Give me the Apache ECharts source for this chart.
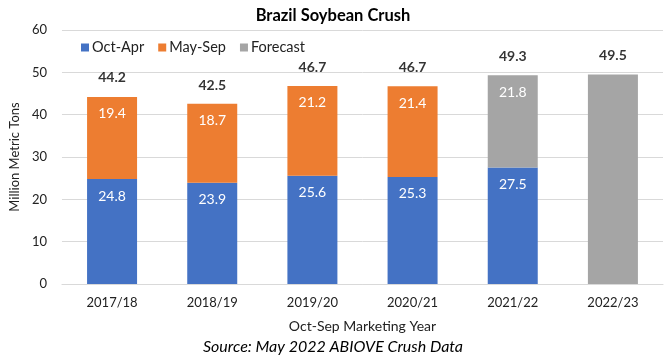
<!DOCTYPE html>
<html>
<head>
<meta charset="utf-8">
<script src="https://cdn.jsdelivr.net/npm/echarts@6/dist/echarts.min.js"></script>
<style>html,body{margin:0;padding:0;background:#fff;}#c{width:666px;height:358px;}</style>
</head>
<body>
<div id="c"></div>
<script>
var categories = ['2017/18', '2018/19', '2019/20', '2020/21', '2021/22', '2022/23'];
var octApr = [24.8, 23.9, 25.6, 25.3, 27.5, null];
var maySep = [19.4, 18.7, 21.2, 21.4, null, null];
var forecast = [null, null, null, null, 21.8, 49.5];
var forecastLabelShown = [true, true, true, true, true, false];
var totals = [44.2, 42.5, 46.7, 46.7, 49.3, 49.5];
var yTicks = [0, 10, 20, 30, 40, 50, 60];

var FONT = 'Lato';
var chart = echarts.init(document.getElementById('c'), null, {renderer: 'canvas'});
var inLabel = {show: true, position: 'insideTop', distance: 10, color: '#fff', fontSize: 14, fontFamily: FONT,
  formatter: function (p) { return p.value == null ? '' : p.value.toFixed(1); }};
chart.setOption({
  animation: false,
  backgroundColor: '#fff',
  title: {
    text: 'Brazil Soybean Crush', left: 'center', top: 2,
    textStyle: {fontFamily: FONT, fontWeight: 'bold', fontSize: 16.5, color: '#000'}
  },
  legend: {
    data: ['Oct-Apr', 'May-Sep', 'Forecast'], left: 76, top: 35, itemWidth: 8, itemHeight: 8, itemGap: 14,
    icon: 'rect', textStyle: {fontFamily: FONT, fontSize: 14.5, color: '#222', padding: [0, 0, 0, -2]}
  },
  grid: {left: 60, right: 3, top: 30, bottom: 74},
  xAxis: {
    type: 'category', data: categories,
    axisLine: {lineStyle: {color: '#d9d9d9', width: 1}}, axisTick: {show: false},
    axisLabel: {fontFamily: FONT, fontSize: 13, color: '#222', margin: 12},
    name: 'Oct-Sep Marketing Year', nameLocation: 'middle', nameGap: 35,
    nameTextStyle: {fontFamily: FONT, fontSize: 14, color: '#222'}
  },
  yAxis: {
    type: 'value', min: 0, max: 60, interval: 10,
    axisLine: {show: false}, axisTick: {show: false},
    splitLine: {lineStyle: {color: '#d9d9d9', width: 1}},
    axisLabel: {fontFamily: FONT, fontSize: 13, color: '#222', margin: 15,
      formatter: function (v) { return yTicks.indexOf(v) >= 0 ? String(v) : ''; }},
    name: 'Million Metric Tons', nameLocation: 'middle', nameGap: 28, nameRotate: 90,
    nameTextStyle: {fontFamily: FONT, fontSize: 13, color: '#222'}
  },
  graphic: [{
    type: 'text', left: 'center', top: 339,
    style: {text: 'Source: May 2022 ABIOVE Crush Data', font: 'italic 16px ' + FONT, fill: '#000'}
  }],
  series: [
    {name: 'Oct-Apr', type: 'bar', stack: 's', barWidth: 50, data: octApr,
     itemStyle: {color: '#4472C4'}, label: inLabel},
    {name: 'May-Sep', type: 'bar', stack: 's', barWidth: 50, data: maySep,
     itemStyle: {color: '#ED7D31'}, label: inLabel},
    {name: 'Forecast', type: 'bar', stack: 's', barWidth: 50,
     data: forecast.map(function (v, i) { return {value: v, label: {show: forecastLabelShown[i]}}; }),
     itemStyle: {color: '#A5A5A5'}, label: inLabel},
    {name: 'Total', type: 'scatter', data: totals, symbolSize: 0, silent: true,
     label: {show: true, position: 'top', distance: 12, color: '#000', fontWeight: 'bold', fontSize: 14, fontFamily: FONT,
       formatter: function (p) { return p.value.toFixed(1); }}}
  ]
});
</script>
</body>
</html>
